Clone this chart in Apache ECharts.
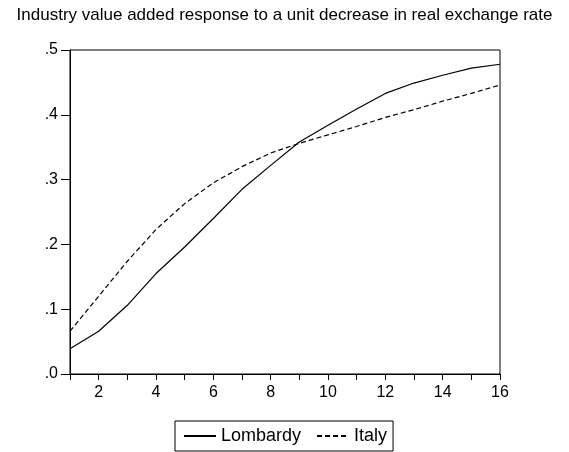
<!DOCTYPE html>
<html>
<head>
<meta charset="utf-8">
<script src="https://cdn.jsdelivr.net/npm/echarts@6/dist/echarts.min.js"></script>
<style>
  html, body { margin: 0; padding: 0; background: #fff; }
  #main { width: 569px; height: 452px; }
</style>
</head>
<body>
<div id="main"></div>
<script>
//----------- Data
const periods = ["1","2","3","4","5","6","7","8","9","10","11","12","13","14","15","16"];
const lombardy = [0.039, 0.066, 0.106, 0.155, 0.196, 0.240, 0.285, 0.322, 0.358, 0.384, 0.409, 0.433, 0.449, 0.461, 0.472, 0.478];
const italy = [0.066, 0.120, 0.174, 0.223, 0.263, 0.295, 0.320, 0.341, 0.356, 0.369, 0.382, 0.396, 0.408, 0.421, 0.433, 0.446];
const yTicks = [0, 0.1, 0.2, 0.3, 0.4, 0.5];
//----------- Data

const font = "'Liberation Sans', Arial, sans-serif";
const myChart = echarts.init(document.getElementById("main"));

const option = {
    animation: false,
    backgroundColor: "#fff",
    title: {
        text: "Industry value added response to a unit decrease in real exchange rate",
        left: "center",
        top: 7,
        padding: 0,
        textStyle: {fontFamily: font, fontSize: 17, fontWeight: "normal", color: "#000"}
    },
    grid: {
        left: 70, right: 69, top: 50, bottom: 78,
        show: true, borderColor: "#000", borderWidth: 1
    },
    legend: {
        bottom: 1,
        left: 175,
        itemWidth: 32,
        itemHeight: 10,
        itemGap: 15,
        padding: [6, 6, 6, 8],
        borderColor: "#000",
        borderWidth: 1,
        borderRadius: 0,
        itemStyle: {opacity: 0},
        textStyle: {fontFamily: font, fontSize: 18, color: "#000"},
        data: ["Lombardy", "Italy"]
    },
    xAxis: {
        type: "category",
        boundaryGap: false,
        data: periods,
        axisLine: {lineStyle: {color: "#000", width: 1}},
        axisTick: {show: true, interval: 0, length: 6, lineStyle: {color: "#000"}},
        axisLabel: {
            interval: (i, v) => +v % 2 === 0,
            margin: 11,
            fontFamily: font, fontSize: 16, color: "#000"
        },
        splitLine: {show: false}
    },
    yAxis: {
        type: "value",
        min: yTicks[0],
        max: yTicks[yTicks.length - 1],
        interval: 0.1,
        axisLine: {show: true, lineStyle: {color: "#000", width: 1}},
        axisTick: {show: true, length: 9, lineStyle: {color: "#000"}},
        axisLabel: {
            margin: 12,
            fontFamily: font, fontSize: 16, color: "#000",
            formatter: v => v.toFixed(1).replace("0.", ".")
        },
        splitLine: {show: false}
    },
    series: [
        {
            name: "Lombardy",
            type: "line",
            symbol: "none",
            lineStyle: {color: "#000", width: 1.2, type: "solid"},
            itemStyle: {color: "#000"},
            data: lombardy
        },
        {
            name: "Italy",
            type: "line",
            symbol: "none",
            lineStyle: {color: "#000", width: 1.2, type: [5, 3]},
            itemStyle: {color: "#000"},
            data: italy
        }
    ]
};

myChart.setOption(option);
</script>
</body>
</html>
